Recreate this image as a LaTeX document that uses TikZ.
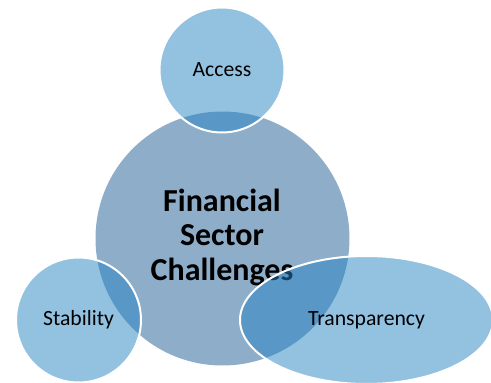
\documentclass[tikz,border=0pt]{standalone}
\usepackage{fontspec}
\setmainfont{Carlito}
\usetikzlibrary{shapes.geometric}
\definecolor{hubfill}{RGB}{141,173,201}
\definecolor{leaffill}{RGB}{39,133,196}
\tikzset{
  hub/.style={circle, fill=hubfill, minimum size=254pt, inner sep=0pt},
  hubtext/.style={align=center, text=black, font=\fontsize{32}{34.5}\selectfont\bfseries},
  leaf/.style={fill=leaffill, fill opacity=0.5, text opacity=1, draw=white,
    draw opacity=1, line width=2pt, inner sep=0pt, text=black,
    font=\fontsize{21.7}{25}\selectfont},
  leafcircle/.style={leaf, circle, minimum size=125pt},
  leafellipse/.style={leaf, ellipse, minimum width=253pt, minimum height=128pt}
}
\begin{document}
\begin{tikzpicture}[x=1pt,y=-1pt]
  \useasboundingbox (0,0) rectangle (491,383);
  % central theme
  \node[hub] (hub) at (222.5,238.5) {};
  \node[hubtext] (hubtxt) at (222,237) {Financial\\Sector\\Challenges};
  % overlapping topics
  \node[leafcircle] (access) at (222,70) {Access};
  \node[leafcircle] (stability) at (78.5,320) {Stability};
  \node[leafellipse] (transparency) at (366.5,320) {Transparency};
\end{tikzpicture}
\end{document}
